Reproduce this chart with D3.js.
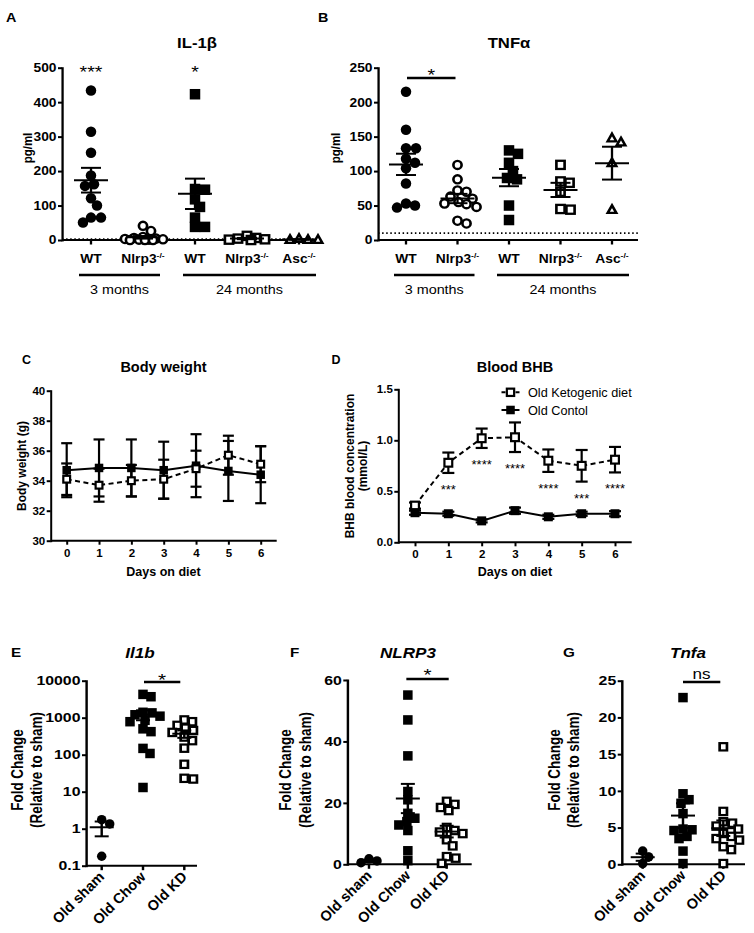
<!DOCTYPE html>
<html><head><meta charset="utf-8">
<script src="https://cdn.jsdelivr.net/npm/d3@7/dist/d3.min.js"></script>
<style>
body{margin:0;background:#fff}
svg{font-family:"Liberation Sans",Arial,Helvetica,sans-serif}
</style></head><body>
<script>
// ================= DATA =================
// Panels A/B
const topCats = ["WT","Nlrp3","WT","Nlrp3","Asc"];
const topCatSup = ["","-/-","","-/-","-/-"];
const ageGroups = ["3 months","24 months"];
const ageSpans = [[0,1],[2,4]];
const topShapes = ["circle","circle","square","square","triangle"];
const topFilled = [true,false,true,false,false];

const il1bWT3 = [434,314,253,187,162,157,121,100,65,65,51];
const il1bNlrp3_3 = [41,26,9,6,4,3,2,1,1,0,0,0];
const il1bWT24 = [423,148,146,118,96,65,38,38];
const il1bNlrp3_24 = [12,6,4,2,1,0];
const il1bAsc24 = [4,1,1,1];
const il1bTicks = [0,100,200,300,400,500];
const il1bLOD = 3;
const il1bStars = ["***","","*","",""];

const tnfWT3 = [215,160,133,133,118,112,104,82,53,50,47];
const tnfNlrp3_3 = [109,88,72,70,63,60,55,53,52,48,28,24];
const tnfWT24 = [130,125,112,100,90,88,50,29];
const tnfNlrp3_24 = [109,85,83,70,45,44];
const tnfAsc24 = [148,142,112,44];
const tnfTicks = [0,50,100,150,200,250];
const tnfLOD = 10;

// Panels C/D
const days = [0,1,2,3,4,5,6];
const bwControl = [34.7,34.85,34.85,34.7,35.0,34.65,34.4];
const bwControlErr = [1.8,1.9,1.9,1.9,2.1,2.0,1.9];
const bwKD = [34.1,33.7,34.0,34.1,34.8,35.7,35.1];
const bwKDErr = [1.05,1.1,1.05,1.3,1.2,1.3,1.2];
const bwTicks = [30,32,34,36,38,40];

const bhbKD = [0.36,0.78,1.02,1.03,0.80,0.75,0.81];
const bhbKDErr = [0.03,0.10,0.095,0.145,0.11,0.155,0.125];
const bhbControl = [0.29,0.28,0.21,0.31,0.25,0.28,0.28];
const bhbControlErr = [0.02,0.02,0.015,0.03,0.02,0.02,0.025];
const bhbStars = ["","***","****","****","****","***","****"];
const bhbTicks = [0,0.5,1.0,1.5];
const legendNames = ["Old Ketogenic diet","Old Contol"];

// Panels E/F/G
const bottomCats = ["Old sham","Old Chow","Old KD"];
const bottomShapes = ["circle","square","square"];
const bottomFilled = [true,true,false];

const il1bSham = [1.75,1.35,0.18];
const il1bChow = [4270,3690,1400,1350,1200,1100,850,780,500,420,148,108,13];
const il1bKD = [870,780,620,520,450,400,300,240,150,55,23,22];
const il1bLogTicks = [0.1,1,10,100,1000,10000];

const nlrpSham = [1.8,1.1,0.5];
const nlrpChow = [55.1,47,35.3,23.7,21,16.6,15,13.9,12.8,11,4.4,1.2];
const nlrpKD = [20.5,19.5,18.5,17.5,12,11,10.5,10,8,6,2.5,2,0.3];
const nlrpTicks = [0,20,40,60];

const tnfaSham = [1.8,1.0,0.1];
const tnfaChow = [22.7,9.6,8.8,8.3,6.9,4.8,4.7,4.6,3.8,3.5,1.8,0.1];
const tnfaKD = [16,7.2,5.8,5.6,5.2,4.8,4.2,3.8,3.5,3.3,2.4,2.0,0.1];
const tnfaTicks = [0,5,10,15,20,25];

// ================= DRAWING =================
const W=754,H=933;
const svg=d3.select('body').append('svg').attr('width',W).attr('height',H);
svg.append('rect').attr('width',W).attr('height',H).attr('fill','#fff');

function styleAxis(sel,size){
  sel.attr('font-family',null).attr('font-size',null);
  sel.select('.domain').attr('stroke','#000').attr('stroke-width',2).attr('stroke-linecap','square');
  sel.selectAll('.tick line').attr('stroke','#000').attr('stroke-width',2);
  sel.selectAll('.tick text').attr('fill','#000').attr('font-size',size).attr('font-weight','bold');
}
function sem(a){return d3.deviation(a)/Math.sqrt(a.length);}

function swarm(vals,y,cx,d,maxOff){
  const pts=vals.map(v=>({v,y:y(v)})).sort((a,b)=>a.y-b.y);
  const placed=[];
  pts.forEach(p=>{
    let best=0,score=-Infinity;
    for(let k=0;k<=2*maxOff;k++){
      const off=(k%2===1?1:-1)*Math.ceil(k/2);
      let md=Infinity;
      placed.forEach(q=>{const dd=Math.hypot(q.off-off,q.y-p.y); if(dd<md)md=dd;});
      if(md>=d){best=off;score=Infinity;break;}
      if(md>score){score=md;best=off;}
    }
    p.off=best;p.x=cx+best;placed.push(p);
  });
  return pts;
}

function marker(g,shape,filled,cx,cy,s,sx,sw){
  const fill=filled?'#000':'#fff';
  const ins=filled?0:sw/2;
  let el;
  if(shape==='circle'){
    el=g.append('ellipse').attr('cx',cx/sx).attr('cy',cy).attr('rx',(s/2-ins)/sx).attr('ry',s/2-ins);
  }else if(shape==='square'){
    const h=s-2*ins;
    el=g.append('rect').attr('x',(cx-h/2)/sx).attr('y',cy-h/2).attr('width',h/sx).attr('height',h);
  }else{
    const h=s-2*ins, r=h/2;
    const p=[[cx,cy-r*1.05],[cx+r*1.05,cy+r*0.8],[cx-r*1.05,cy+r*0.8]];
    el=g.append('path').attr('d','M'+p.map(q=>(q[0]/sx)+','+q[1]).join('L')+'Z').attr('stroke-linejoin','miter');
  }
  el.attr('fill',fill).attr('stroke','#000').attr('stroke-width',filled?0:sw);
}

function txt(g,x,y,s,opt){
  const t=g.append('text').attr('x',x).attr('y',y).text(s)
    .attr('font-size',opt.size).attr('font-weight',opt.bold?'bold':'normal')
    .attr('text-anchor',opt.anchor||'middle').attr('fill','#000');
  if(opt.italic)t.attr('font-style','italic');
  return t;
}

function drawScatter(c){
  const sx=c.sx, X=v=>v/sx;
  const g=svg.append('g').attr('transform',`scale(${sx},1)`);
  const y=c.y;
  const xp=d3.scalePoint().domain(d3.range(c.groups.length)).range(c.xRange);
  const y0=y.range()[0];
  if(c.lod!==undefined){
    g.append('line').attr('x1',X(c.axisX)).attr('x2',X(c.axisEnd)).attr('y1',y(c.lod)).attr('y2',y(c.lod))
      .attr('stroke','#000').attr('stroke-width',1.6).attr('stroke-dasharray',`${1.5/sx},${2.6/sx}`);
  }
  const ya=g.append('g').attr('transform',`translate(${X(c.axisX)},0)`)
    .call(d3.axisLeft(y).tickValues(c.yTicks).tickFormat(c.yFmt).tickSize(X(4)).tickPadding(X(1.5)).tickSizeOuter(0));
  styleAxis(ya,c.tickFont);
  g.append('line').attr('x1',X(c.axisX)).attr('x2',X(c.axisEnd)).attr('y1',y0).attr('y2',y0).attr('stroke','#000').attr('stroke-width',2);
  c.groups.forEach((gr,i)=>{
    g.append('line').attr('x1',X(xp(i))).attr('x2',X(xp(i))).attr('y1',y0).attr('y2',y0+4.5).attr('stroke','#000').attr('stroke-width',2);
  });
  c.groups.forEach((vals,i)=>{
    const pts=swarm(vals,y,xp(i),c.msize*0.86,c.maxOff);
    pts.forEach(p=>marker(g,c.shapes[i],c.filled[i],p.x,p.y,c.msize,sx,c.sw));
  });
  c.groups.forEach((vals,i)=>{
    const m=d3.mean(vals), s=sem(vals), cx=xp(i);
    const ln=(x1,x2,y1,y2)=>g.append('line').attr('x1',X(x1)).attr('x2',X(x2)).attr('y1',y1).attr('y2',y2).attr('stroke','#000').attr('stroke-width',2);
    ln(cx-c.meanW,cx+c.meanW,y(m),y(m));
    ln(cx,cx,y(m-s),y(m+s));
    ln(cx-c.capW,cx+c.capW,y(m-s),y(m-s));
    ln(cx-c.capW,cx+c.capW,y(m+s),y(m+s));
  });
  c.groups.forEach((gr,i)=>{
    if(c.rotate){
      g.append('text').attr('transform',`translate(${X(xp(i)+3.5)},${y0+12}) scale(${1/sx},1) rotate(-45)`)
        .attr('text-anchor','end').attr('font-size',c.labFont).attr('font-weight','bold').text(c.cats[i]);
    }else{
      const t=g.append('text').attr('x',X(xp(i))).attr('y',c.labY).attr('text-anchor','middle')
        .attr('font-size',c.labFont).attr('font-weight','bold');
      t.append('tspan').text(c.cats[i]);
      if(c.sups&&c.sups[i]) t.append('tspan').attr('font-size',c.labFont*0.62).attr('dy',-c.labFont*0.42).text(c.sups[i]);
    }
  });
  if(c.spans){
    c.spans.forEach((sp,k)=>{
      const x1=xp(sp[0])-12, x2=xp(sp[1])+17;
      g.append('line').attr('x1',X(x1)).attr('x2',X(x2)).attr('y1',c.spanY).attr('y2',c.spanY).attr('stroke','#000').attr('stroke-width',2.5);
      txt(g,X((x1+x2)/2),c.spanY+19,c.spanNames[k],{size:12.5});
    });
  }
  if(c.stars){
    c.stars.forEach((s,i)=>{ if(s) txt(g,X(xp(i)),y.range()[1]+10,s,{size:17}); });
  }
  if(c.bracket){
    const b=c.bracket, x1=xp(b.i)+b.dx1, x2=xp(b.j)+b.dx2;
    g.append('line').attr('x1',X(x1)).attr('x2',X(x2)).attr('y1',b.y).attr('y2',b.y).attr('stroke','#000').attr('stroke-width',2.5);
    txt(g,X((x1+x2)/2),b.ty,b.text,{size:b.size});
  }
  txt(g,X(c.titleX),c.titleY,c.title,{size:c.titleFont,bold:true,italic:c.italic});
  txt(g,X(c.letterX),c.letterY,c.letter,{size:12.5,bold:true,anchor:'start'});
  c.ylabels.forEach(l=>{
    g.append('text').attr('transform',`translate(${X(l.x)},${l.y}) rotate(-90)`).attr('dy','0.35em')
      .attr('text-anchor','middle').attr('font-size',l.size).attr('font-weight','bold').text(l.text);
  });
  return {g,xp,y};
}

const sxTop=1.15;
drawScatter({
  sx:sxTop, axisX:62, axisEnd:317, xRange:[91,299],
  y:d3.scaleLinear().domain([0,500]).range([240,67.7]),
  yTicks:il1bTicks, yFmt:d3.format('d'), tickFont:12,
  groups:[il1bWT3,il1bNlrp3_3,il1bWT24,il1bNlrp3_24,il1bAsc24],
  shapes:topShapes, filled:topFilled, msize:10.5, sw:2.3, maxOff:20,
  meanW:17, capW:10, lod:il1bLOD,
  cats:topCats, sups:topCatSup, labY:262.7, labFont:12,
  spans:ageSpans, spanNames:ageGroups, spanY:275,
  stars:il1bStars,
  title:"IL-1β", titleX:197, titleY:48, titleFont:14.5,
  letter:"A", letterX:6, letterY:22,
  ylabels:[{text:"pg/ml",x:27,y:148,size:11.5}]
});
drawScatter({
  sx:sxTop, axisX:378, axisEnd:638, xRange:[406,612],
  y:d3.scaleLinear().domain([0,250]).range([240,67.7]),
  yTicks:tnfTicks, yFmt:d3.format('d'), tickFont:12,
  groups:[tnfWT3,tnfNlrp3_3,tnfWT24,tnfNlrp3_24,tnfAsc24],
  shapes:topShapes, filled:topFilled, msize:10.5, sw:2.3, maxOff:20,
  meanW:17, capW:10, lod:tnfLOD,
  cats:topCats, sups:topCatSup, labY:262.7, labFont:12,
  spans:ageSpans, spanNames:ageGroups, spanY:275,
  bracket:{i:0,j:1,dx1:1,dx2:-2,y:78,ty:81.5,text:"*",size:17},
  title:"TNFα", titleX:509, titleY:48, titleFont:14.5,
  letter:"B", letterX:318, letterY:22,
  ylabels:[{text:"pg/ml",x:335,y:148,size:11.5}]
});

function drawLinePanel(c){
  const g=svg.append('g');
  const x=d3.scaleLinear().domain(d3.extent(days)).range(c.xRange);
  const y=d3.scaleLinear().domain(c.yDomain).range(c.yRange);
  const ya=g.append('g').attr('transform',`translate(${c.axisX},0)`)
    .call(d3.axisLeft(y).tickValues(c.yTicks).tickFormat(c.yFmt).tickSize(4).tickPadding(1.5).tickSizeOuter(0));
  styleAxis(ya,11.5);
  const xa=g.append('g').attr('transform',`translate(0,${c.yRange[0]})`)
    .call(d3.axisBottom(x).tickValues(days).tickFormat(d3.format('d')).tickSize(4).tickPadding(4).tickSizeOuter(0));
  styleAxis(xa,11.5);
  xa.select('.domain').remove();
  g.append('line').attr('x1',c.axisX).attr('x2',c.axisEnd).attr('y1',c.yRange[0]).attr('y2',c.yRange[0]).attr('stroke','#000').attr('stroke-width',2);
  c.series.forEach(s=>{
    s.vals.forEach((v,i)=>{
      const cx=x(days[i]), lo=y(v-s.errs[i]), hi=y(v+s.errs[i]);
      g.append('line').attr('x1',cx).attr('x2',cx).attr('y1',lo).attr('y2',hi).attr('stroke','#000').attr('stroke-width',2.2);
      [lo,hi].forEach(yy=>g.append('line').attr('x1',cx-c.capW).attr('x2',cx+c.capW).attr('y1',yy).attr('y2',yy).attr('stroke','#000').attr('stroke-width',2.2));
    });
    const line=d3.line().x((v,i)=>x(days[i])).y(v=>y(v));
    g.append('path').attr('d',line(s.vals)).attr('fill','none').attr('stroke','#000').attr('stroke-width',2)
      .attr('stroke-dasharray',s.dashed?'5,3.5':null);
    s.vals.forEach((v,i)=>marker(g,'square',s.filled,x(days[i]),y(v),s.size,1,2.2));
  });
  if(c.stars){
    const s=c.series[0];
    c.stars.forEach((st,i)=>{ if(st) txt(g,x(days[i]),y(s.vals[i]-s.errs[i])+21,st,{size:13}); });
  }
  if(c.legend){
    c.series.forEach((s,k)=>{
      const ly=c.legend.y+k*c.legend.dy, lx=c.legend.x;
      g.append('line').attr('x1',lx-9).attr('x2',lx+9).attr('y1',ly).attr('y2',ly).attr('stroke','#000').attr('stroke-width',2)
        .attr('stroke-dasharray',s.dashed?'4,3':null);
      marker(g,'square',s.filled,lx,ly,s.size*0.95,1,2.2);
      txt(g,lx+17.5,ly+4.5,c.legend.names[k],{size:12.7,anchor:'start'});
    });
  }
  txt(g,c.titleX,372,c.title,{size:14.5,bold:true});
  txt(g,c.titleX,576,"Days on diet",{size:12.5,bold:true});
  txt(g,c.letterX,364,c.letter,{size:12.5,bold:true,anchor:'start'});
  c.ylabels.forEach(l=>{
    g.append('text').attr('transform',`translate(${l.x},${l.y}) rotate(-90)`).attr('dy','0.35em')
      .attr('text-anchor','middle').attr('font-size',12).attr('font-weight','bold').text(l.text);
  });
}
drawLinePanel({
  xRange:[66.7,260.7], yDomain:[30,40], yRange:[540.7,390.7], axisX:50.7, axisEnd:276.7,
  yTicks:bwTicks, yFmt:d3.format('d'), capW:5.5,
  series:[
    {vals:bwControl,errs:bwControlErr,filled:true,dashed:false,size:8.5},
    {vals:bwKD,errs:bwKDErr,filled:false,dashed:true,size:9}
  ],
  title:"Body weight", titleX:163.5, letter:"C", letterX:22,
  ylabels:[{text:"Body weight (g)",x:22,y:466}]
});
drawLinePanel({
  xRange:[415,615], yDomain:[0,1.5], yRange:[542.3,389.3], axisX:398.3, axisEnd:631.7,
  yTicks:bhbTicks, yFmt:d3.format('.1f'), capW:6,
  series:[
    {vals:bhbKD,errs:bhbKDErr,filled:false,dashed:true,size:10},
    {vals:bhbControl,errs:bhbControlErr,filled:true,dashed:false,size:9}
  ],
  stars:bhbStars,
  legend:{x:510.5,y:392.3,dy:17.7,names:legendNames},
  title:"Blood BHB", titleX:515, letter:"D", letterX:331.5,
  ylabels:[{text:"BHB blood concentration",x:350,y:466},{text:"(mmol/L)",x:362.5,y:466}]
});

const sxBot=1.22;
const logFmt=d=>d<1?d3.format('.1f')(d):d3.format('d')(d);
const bottomCommon={sx:sxBot, tickFont:13, shapes:bottomShapes, filled:bottomFilled, msize:9.5, sw:2.2, maxOff:18,
  meanW:12, capW:7, cats:bottomCats, rotate:true, labFont:14.5, titleFont:14, italic:true, titleY:658};
drawScatter(Object.assign({},bottomCommon,{
  axisX:86, axisEnd:197, xRange:[101.7,184.3],
  y:d3.scaleLog().domain([0.1,10000]).range([865.7,680.7]),
  yTicks:il1bLogTicks, yFmt:logFmt,
  groups:[il1bSham,il1bChow,il1bKD],
  bracket:{i:1,j:2,dx1:1,dx2:-4,y:682,ty:686,text:"*",size:17},
  title:"Il1b", titleX:140, letter:"E", letterX:11, letterY:657,
  ylabels:[{text:"Fold Change",x:17,y:770,size:13.5},{text:"(Relative to sham)",x:36,y:770,size:13.5}]
}));
drawScatter(Object.assign({},bottomCommon,{
  axisX:347.3, axisEnd:471.7, xRange:[369,446.7],
  y:d3.scaleLinear().domain([0,60]).range([864.3,680]),
  yTicks:nlrpTicks, yFmt:d3.format('d'),
  groups:[nlrpSham,nlrpChow,nlrpKD],
  bracket:{i:1,j:2,dx1:-1.5,dx2:2,y:679,ty:681.5,text:"*",size:17},
  title:"NLRP3", titleX:408, letter:"F", letterX:290, letterY:657,
  ylabels:[{text:"Fold Change",x:285,y:770,size:13.5},{text:"(Relative to sham)",x:305,y:770,size:13.5}]
}));
drawScatter(Object.assign({},bottomCommon,{
  axisX:621.7, axisEnd:745, xRange:[642.7,723.3],
  y:d3.scaleLinear().domain([0,25]).range([864.3,680.7]),
  yTicks:tnfaTicks, yFmt:d3.format('d'),
  groups:[tnfaSham,tnfaChow,tnfaKD],
  bracket:{i:1,j:2,dx1:0,dx2:-3,y:682,ty:679,text:"ns",size:14},
  title:"Tnfa", titleX:688, letter:"G", letterX:563, letterY:657,
  ylabels:[{text:"Fold Change",x:554,y:770,size:13.5},{text:"(Relative to sham)",x:573,y:770,size:13.5}]
}));
</script>
</body></html>
